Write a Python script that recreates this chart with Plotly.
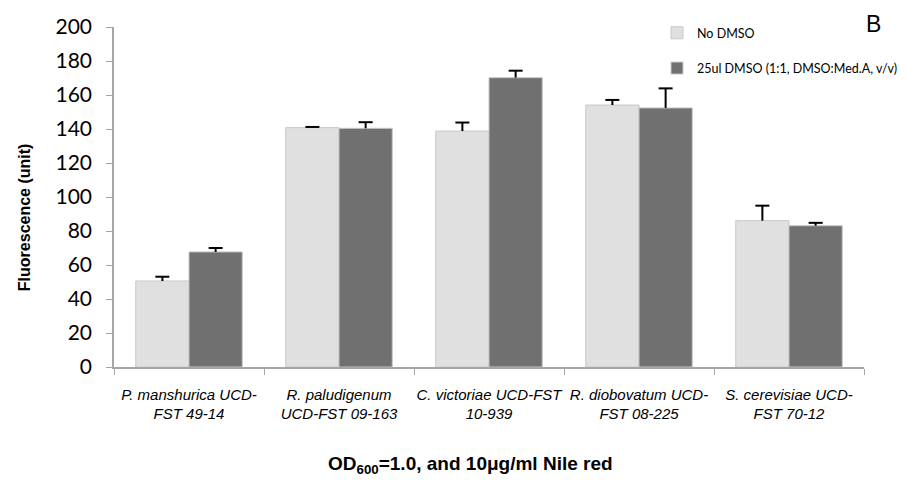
import plotly.graph_objects as go

categories = ["P. manshurica UCD-<br>FST 49-14", "R. paludigenum<br>UCD-FST 09-163",
              "C. victoriae UCD-FST<br>10-939", "R. diobovatum UCD-<br>FST 08-225",
              "S. cerevisiae UCD-<br>FST 70-12"]
no_dmso = [50.6, 140.8, 138.8, 154.1, 86.1]
no_dmso_err = [2.5, 0.4, 5.0, 3.0, 8.8]
dmso = [67.7, 140.4, 170.2, 152.4, 83.1]
dmso_err = [2.3, 3.6, 4.1, 11.5, 1.7]
series_names = ["No DMSO", "25ul DMSO (1:1, DMSO:Med.A, v/v)"]
y_ticks = [0, 20, 40, 60, 80, 100, 120, 140, 160, 180, 200]

fig = go.Figure()
specs = [(series_names[0], no_dmso, no_dmso_err, "#e0e0e0", "a"),
         (series_names[1], dmso, dmso_err, "#707070", "b")]
for name, vals, errs, col, grp in specs:
    fig.add_trace(go.Bar(
        x=categories, y=vals, name=name, legendgroup=grp, offsetgroup=grp,
        marker=dict(color=col, line=dict(color="#c8c8c8", width=1)),
        error_y=dict(type="data", array=errs, arrayminus=[0]*len(errs), symmetric=False,
                     color="black", thickness=2, width=0),
    ))
# error bar caps (top only)
for name, vals, errs, col, grp in specs:
    fig.add_trace(go.Scatter(
        x=categories, y=[v + e for v, e in zip(vals, errs)], mode="markers",
        offsetgroup=grp, legendgroup=grp, showlegend=False, hoverinfo="skip",
        marker=dict(symbol="line-ew", size=10, color="black", line=dict(color="black", width=2)),
    ))

fig.update_layout(
    width=908, height=485,
    margin=dict(l=114, r=44, t=27, b=118, autoexpand=False),
    paper_bgcolor="white", plot_bgcolor="white",
    barmode="group", bargap=0.29, bargroupgap=0,
    scattermode="group", scattergap=0.29,
    showlegend=True,
    legend=dict(x=0.724, y=1.026, xanchor="left", yanchor="top",
                font=dict(family="Lato", size=12.5, color="black"),
                traceorder="grouped", tracegroupgap=16, itemwidth=30,
                bgcolor="rgba(0,0,0,0)"),
    xaxis=dict(range=[-0.5, 4.5], showline=True, linecolor="#a6a6a6", linewidth=1.5,
               ticks="outside", tickson="boundaries", ticklen=6, tickcolor="#a6a6a6",
               tickfont=dict(family="Liberation Sans", size=15, color="black", style="italic"),
               ticklabelstandoff=13,
               tickangle=0, showgrid=False, zeroline=False),
    yaxis=dict(range=[0, 200], tickvals=y_ticks, showline=True, linecolor="#a6a6a6", linewidth=1.5,
               ticks="outside", ticklen=6, tickcolor="#a6a6a6",
               tickfont=dict(family="Lato", size=21, color="black"),
               ticklabelstandoff=10,
               showgrid=False, zeroline=False),
    annotations=[
        dict(text="Fluorescence (unit)", xref="paper", yref="paper", x=-0.119, y=0.44,
             xanchor="center", yanchor="middle", textangle=-90, showarrow=False,
             font=dict(family="Liberation Sans", size=16, color="black", weight="bold")),
        dict(text="OD<sub>600</sub>=1.0, and 10\u03bcg/ml Nile red", xref="paper", yref="paper",
             x=0.475, y=-0.288, xanchor="center", yanchor="middle", showarrow=False,
             font=dict(family="Liberation Sans", size=19, color="black", weight="bold")),
        dict(text="B", xref="paper", yref="paper", x=1.013, y=1.01, xanchor="center",
             yanchor="middle", showarrow=False,
             font=dict(family="Liberation Sans", size=23, color="black")),
    ],
)
fig.write_html("out.html")
